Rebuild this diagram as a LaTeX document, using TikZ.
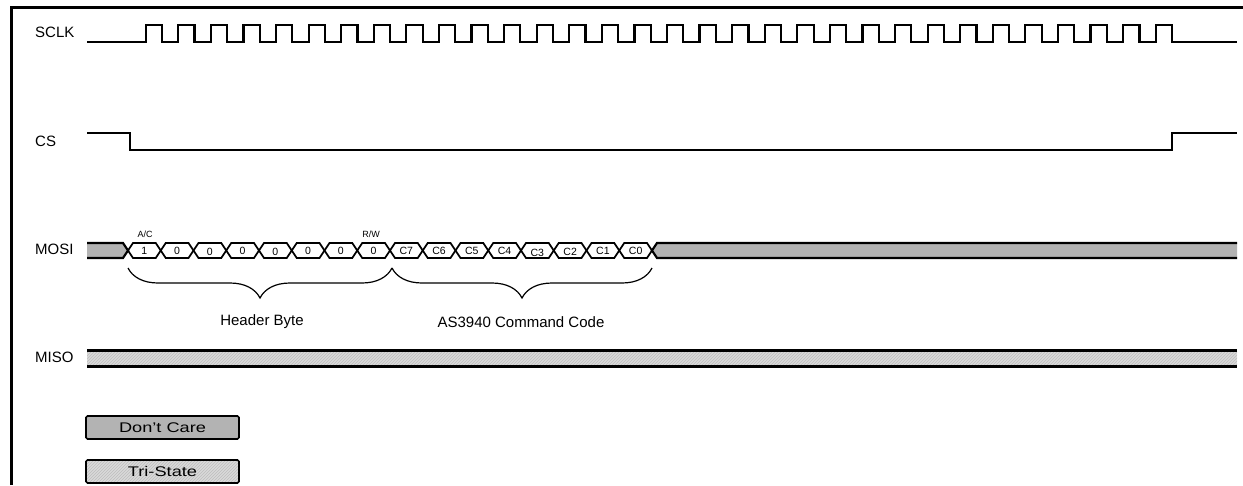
\documentclass[tikz,border=0pt]{standalone}
\usepackage{fontspec}
\setmainfont{Liberation Sans}
\usetikzlibrary{decorations.pathreplacing,patterns}
\definecolor{dcgray}{HTML}{B3B3B3}
\definecolor{trigray}{HTML}{DADADA}
\definecolor{hatch}{HTML}{BDBDBD}
\begin{document}
\begin{tikzpicture}[x=1pt,y=-1pt,
  sig/.style={line width=2.2pt, line join=miter, line cap=butt},
  cell/.style={line width=1.7pt, line join=miter},
  lbl/.style={font=\fontsize{15}{18}\selectfont, anchor=west, inner sep=0pt},
  bitlbl/.style={font=\fontsize{10.5}{12}\selectfont, inner sep=0pt},
  toplbl/.style={font=\fontsize{9}{10}\selectfont, inner sep=0pt},
  brlbl/.style={font=\fontsize{15}{18}\selectfont, inner sep=0pt},
  legbox/.style={draw, line width=1.6pt, rounded corners=1.5pt, minimum width=153pt, minimum height=23pt, inner sep=0pt, font=\fontsize{14}{16}\selectfont},
  bracestyle/.style={decorate, decoration={brace, amplitude=30pt, mirror}, line width=1.2pt}
]
\useasboundingbox (0,0) rectangle (1243,485);
% frame
\draw[line width=3pt] (11,485) -- (11,7) -- (1243,7);

% labels
\node[lbl] (lsclk) at (35,32) {SCLK};
\node[lbl] (lcs) at (35,141) {CS};
\node[lbl] (lmosi) at (35,249) {MOSI};
\node[lbl] (lmiso) at (35,357) {MISO};

% SCLK
\draw[sig] (87,42) foreach \k in {0,...,31}{ -- ({145.7+32.58*\k},42) -- ++(0,-17) -- ++(16.3,0) -- ++(0,17) } -- (1237,42);

% CS
\draw[sig] (87,133) -- (130,133) -- (130,150) -- (1172,150) -- (1172,133) -- (1237,133);

% MOSI don't-care regions
\fill[dcgray] (87,243) -- (123,243) -- (128,250.5) -- (123,258) -- (87,258) -- cycle;
\draw[sig] (87,243) -- (123,243) -- (128,250.5) -- (123,258) -- (87,258);
\fill[dcgray] (1237,243) -- (657,243) -- (652,250.5) -- (657,258) -- (1237,258) -- cycle;
\draw[sig] (1237,243) -- (657,243) -- (652,250.5) -- (657,258) -- (1237,258);

% MOSI bit cells
\foreach \i/\t/\dy in {0/1/0,1/0/0,2/0/1.5,3/0/0,4/0/1.5,5/0/0,6/0/0,7/0/0,
  8/C7/0,9/C6/0,10/C5/0,11/C4/0,12/C3/2.5,13/C2/1.5,14/C1/0,15/C0/0.5}{
  \pgfmathsetmacro\ca{128+32.75*\i}
  \pgfmathsetmacro\cb{128+32.75*(\i+1)}
  \draw[cell] (\ca,250.5) -- (\ca+5,243) -- (\cb-5,243) -- (\cb,250.5) -- (\cb-5,258) -- (\ca+5,258) -- cycle;
  \node[bitlbl] (b\i) at ({(\ca+\cb)/2},{250.5+\dy}) {\t};
}
\node[toplbl] (ac) at (145,234.5) {A/C};
\node[toplbl] (rw) at (371,234.5) {R/W};

% braces
\draw[bracestyle] (128,268) -- (392,268);
\draw[bracestyle] (392,268) -- (652,268);
\node[brlbl] (hb) at (262,322) {Header Byte};
\node[brlbl] (cc) at (521,322) {AS3940 Command Code};

% MISO tri-state
\fill[trigray] (87,350.5) rectangle (1237,366.5);
\fill[pattern=north east lines, pattern color=hatch] (87,350.5) rectangle (1237,366.5);
\draw[sig] (87,350.5) -- (1237,350.5);
\draw[sig] (87,366.5) -- (1237,366.5);

% legend
\node[legbox, fill=dcgray] (ldc) at (162.5,427.5) {\scalebox{1.3}[1]{Don't Care}};
\node[legbox, preaction={fill=trigray}, pattern=north east lines, pattern color=hatch] (lts) at (162.5,471.5) {\scalebox{1.3}[1]{Tri-State}};
\end{tikzpicture}
\end{document}
